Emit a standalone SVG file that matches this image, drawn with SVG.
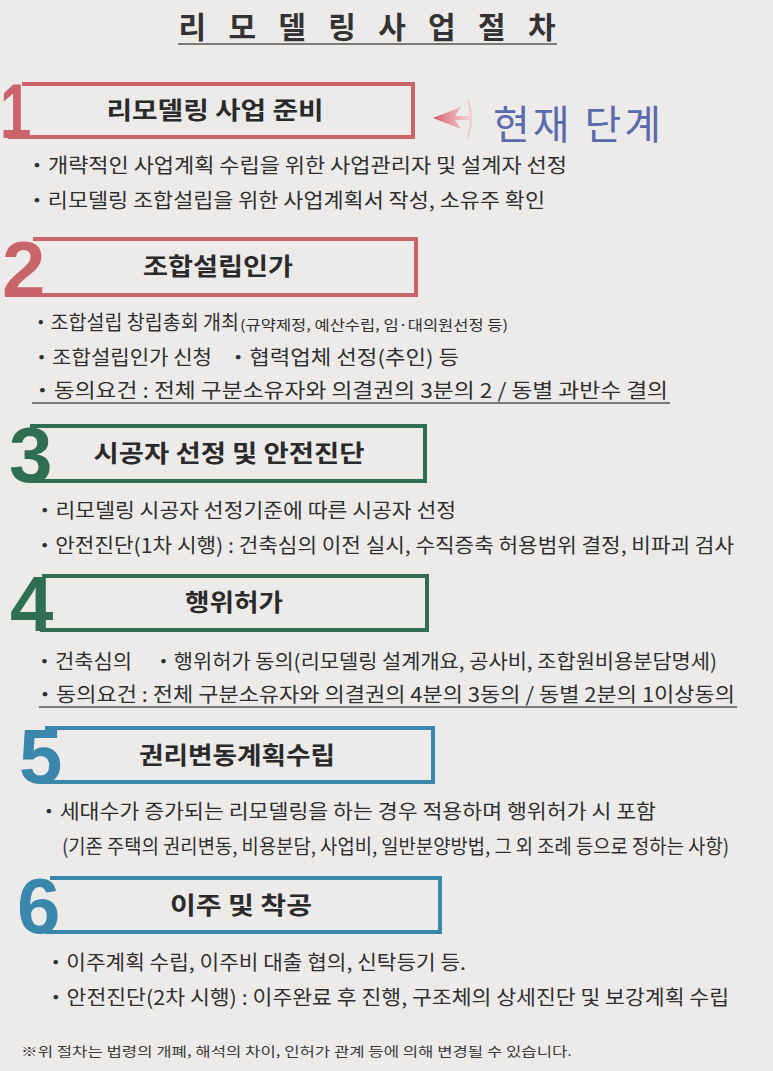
<svg xmlns="http://www.w3.org/2000/svg" width="773" height="1071" viewBox="0 0 773 1071">
<style>
.bg{fill:#ecebe9}
.ttl{font-family:"Noto Sans CJK KR","Noto Sans",sans-serif;font-weight:bold;font-size:30px;fill:#333}
.hd{font-family:"Noto Sans CJK KR","Noto Sans",sans-serif;font-weight:bold;font-size:24px;fill:#2a2a2a}
.tx{font-family:"Noto Sans CJK KR","Noto Sans",sans-serif;font-size:20px;fill:#2f2f2f}
.sm{font-family:"Noto Sans CJK KR","Noto Sans",sans-serif;font-size:14px;fill:#2f2f2f}
.fn{font-family:"Noto Sans CJK KR","Noto Sans",sans-serif;font-size:13px;fill:#3a3a3a}
.num{font-family:"Liberation Sans",Arial,sans-serif;font-weight:bold;font-size:78px}
.box{fill:none;stroke-width:4}
.red{stroke:#c9646b}.redf{fill:#c9646b}
.grn{stroke:#2f6e50}.grnf{fill:#2f6e50}
.blu{stroke:#3b86ab}.bluf{fill:#3b86ab}
.ul{stroke:#555;stroke-width:1.3}
</style>
<defs>
<linearGradient id="ag" x1="0" y1="0" x2="1" y2="0">
<stop offset="0" stop-color="#d9505f"/>
<stop offset="1" stop-color="#f0b8c0" stop-opacity="0.5"/>
</linearGradient>
</defs>
<rect class="bg" x="0" y="0" width="773" height="1071"/>

<g id="title">
<text class="ttl" x="367" y="38" text-anchor="middle" textLength="377" lengthAdjust="spacing">리 모 델 링 사 업 절 차</text>
<line class="ul" x1="178" y1="44" x2="557" y2="44" stroke-width="1.8"/>
</g>

<g id="current">
<text x="577" y="139" text-anchor="middle" font-family="'Noto Sans CJK KR','Noto Sans',sans-serif" font-size="40" fill="#5a6aab" textLength="168" lengthAdjust="spacing">현재 단계</text>
</g>

<g id="connectors">
<path d="M433,118 L461,107 L455,116 L472,116 L472,120 L455,120 L461,129 Z" fill="url(#ag)"/>
<path d="M468,100 Q474,118 468,137" fill="none" stroke="#f2c8cd" stroke-width="2"/>
</g>

<g id="step1">
<path class="box red" d="M22,84 H413 V137 H8"/>
<text class="num redf" transform="translate(0,138) scale(0.72,1)" x="0" y="0">1</text>
<text class="hd" x="215" y="119" text-anchor="middle" textLength="217" lengthAdjust="spacingAndGlyphs">리모델링 사업 준비</text>
<text class="tx" x="26" y="173" textLength="541" lengthAdjust="spacingAndGlyphs">・개략적인 사업계획 수립을 위한 사업관리자 및 설계자 선정</text>
<text class="tx" x="26" y="208" textLength="519" lengthAdjust="spacingAndGlyphs">・리모델링 조합설립을 위한 사업계획서 작성, 소유주 확인</text>
</g>

<g id="step2">
<path class="box red" d="M33,239 H416 V295 H5"/>
<text class="num redf" x="2" y="296">2</text>
<text class="hd" x="218" y="275" text-anchor="middle" textLength="150" lengthAdjust="spacingAndGlyphs">조합설립인가</text>
<text class="tx" x="31" y="330" textLength="208" lengthAdjust="spacingAndGlyphs">・조합설립 창립총회 개최</text>
<text class="sm" x="240" y="330" textLength="268" lengthAdjust="spacingAndGlyphs">(규약제정, 예산수립, 임·대의원선정 등)</text>
<text class="tx" x="31" y="365" textLength="181" lengthAdjust="spacingAndGlyphs">・조합설립인가 신청</text>
<text class="tx" x="227" y="365" textLength="232" lengthAdjust="spacingAndGlyphs">・협력업체 선정(추인) 등</text>
<text class="tx" x="31" y="398" textLength="637" lengthAdjust="spacingAndGlyphs">・동의요건 : 전체 구분소유자와 의결권의 3분의 2 / 동별 과반수 결의</text>
<line class="ul" x1="32" y1="403" x2="670" y2="403"/>
</g>

<g id="step3">
<path class="box grn" d="M30,426 H425 V481 H30"/>
<text class="num grnf" x="9" y="482">3</text>
<text class="hd" x="229" y="462" text-anchor="middle" textLength="271" lengthAdjust="spacingAndGlyphs">시공자 선정 및 안전진단</text>
<text class="tx" x="34" y="518" textLength="422" lengthAdjust="spacingAndGlyphs">・리모델링 시공자 선정기준에 따른 시공자 선정</text>
<text class="tx" x="34" y="553" textLength="700" lengthAdjust="spacingAndGlyphs">・안전진단(1차 시행) : 건축심의 이전 실시, 수직증축 허용범위 결정, 비파괴 검사</text>
</g>

<g id="step4">
<path class="box grn" d="M42,576 H427 V630 H40"/>
<text class="num grnf" x="10" y="631">4</text>
<text class="hd" x="234" y="611" text-anchor="middle" textLength="98" lengthAdjust="spacingAndGlyphs">행위허가</text>
<text class="tx" x="34" y="669" textLength="98" lengthAdjust="spacingAndGlyphs">・건축심의</text>
<text class="tx" x="153" y="669" textLength="564" lengthAdjust="spacingAndGlyphs">・행위허가 동의(리모델링 설계개요, 공사비, 조합원비용분담명세)</text>
<text class="tx" x="34" y="702" textLength="701" lengthAdjust="spacingAndGlyphs">・동의요건 : 전체 구분소유자와 의결권의 4분의 3동의 / 동별 2분의 1이상동의</text>
<line class="ul" x1="39" y1="707" x2="737" y2="707"/>
</g>

<g id="step5">
<path class="box blu" d="M45,728 H433 V782 H40"/>
<text class="num bluf" x="19" y="783">5</text>
<text class="hd" x="237" y="764" text-anchor="middle" textLength="196" lengthAdjust="spacingAndGlyphs">권리변동계획수립</text>
<text class="tx" x="38" y="819" textLength="618" lengthAdjust="spacingAndGlyphs">・세대수가 증가되는 리모델링을 하는 경우 적용하며 행위허가 시 포함</text>
<text class="tx" x="62" y="854" font-size="18" textLength="667" lengthAdjust="spacingAndGlyphs">(기존 주택의 권리변동, 비용분담, 사업비, 일반분양방법, 그 외 조례 등으로 정하는 사항)</text>
</g>

<g id="step6">
<path class="box blu" d="M50,878 H440 V932 H45"/>
<text class="num bluf" x="17" y="933">6</text>
<text class="hd" x="241" y="914" text-anchor="middle" textLength="142" lengthAdjust="spacingAndGlyphs">이주 및 착공</text>
<text class="tx" x="45" y="970" textLength="421" lengthAdjust="spacingAndGlyphs">・이주계획 수립, 이주비 대출 협의, 신탁등기 등.</text>
<text class="tx" x="45" y="1005" textLength="684" lengthAdjust="spacingAndGlyphs">・안전진단(2차 시행) : 이주완료 후 진행, 구조체의 상세진단 및 보강계획 수립</text>
</g>

<g id="footnote">
<text class="fn" x="21" y="1056" textLength="551" lengthAdjust="spacingAndGlyphs">※위 절차는 법령의 개폐, 해석의 차이, 인허가 관계 등에 의해 변경될 수 있습니다.</text>
</g>
</svg>
